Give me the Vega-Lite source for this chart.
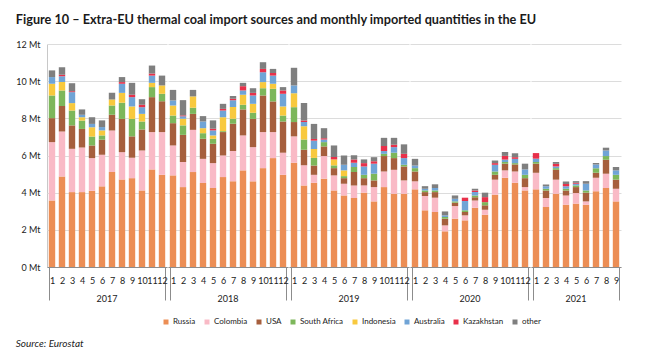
{
  "$schema": "https://vega.github.io/schema/vega-lite/v6.json",
  "background": "white",
  "padding": {"left": 15, "top": 14, "right": 10, "bottom": 4},
  "title": {"text": "Source: Eurostat", "orient": "bottom", "anchor": "start", "fontStyle": "italic", "fontWeight": "normal", "fontSize": 10, "font": "Lato", "color": "#222222", "offset": 13},
  "datasets": {
    "coal": [
      {"year": 2017, "month": 1, "Russia": 3.58, "Colombia": 3.14, "USA": 1.29, "South Africa": 1.22, "Indonesia": 0.63, "Australia": 0.36, "Kazakhstan": 0, "other": 0.36},
      {"year": 2017, "month": 2, "Russia": 4.87, "Colombia": 2.42, "USA": 1.37, "South Africa": 0.84, "Indonesia": 0.45, "Australia": 0.32, "Kazakhstan": 0.07, "other": 0.41},
      {"year": 2017, "month": 3, "Russia": 4.03, "Colombia": 2.33, "USA": 1.26, "South Africa": 0.8, "Indonesia": 0.4, "Australia": 0.59, "Kazakhstan": 0.05, "other": 0.43},
      {"year": 2017, "month": 4, "Russia": 4.03, "Colombia": 2.4, "USA": 1.0, "South Africa": 0.45, "Indonesia": 0.18, "Australia": 0.13, "Kazakhstan": 0, "other": 0.29},
      {"year": 2017, "month": 5, "Russia": 4.1, "Colombia": 1.76, "USA": 0.68, "South Africa": 0.48, "Indonesia": 0.5, "Australia": 0.18, "Kazakhstan": 0, "other": 0.36},
      {"year": 2017, "month": 6, "Russia": 4.34, "Colombia": 1.7, "USA": 0.81, "South Africa": 0.23, "Indonesia": 0.27, "Australia": 0.18, "Kazakhstan": 0, "other": 0.36},
      {"year": 2017, "month": 7, "Russia": 5.11, "Colombia": 2.24, "USA": 0.84, "South Africa": 0.5, "Indonesia": 0.32, "Australia": 0, "Kazakhstan": 0, "other": 0.36},
      {"year": 2017, "month": 8, "Russia": 4.71, "Colombia": 1.47, "USA": 1.79, "South Africa": 0.87, "Indonesia": 0.53, "Australia": 0.49, "Kazakhstan": 0.09, "other": 0.27},
      {"year": 2017, "month": 9, "Russia": 4.78, "Colombia": 1.1, "USA": 1.15, "South Africa": 0.94, "Indonesia": 0.67, "Australia": 0.5, "Kazakhstan": 0.13, "other": 0.64},
      {"year": 2017, "month": 10, "Russia": 4.12, "Colombia": 2.15, "USA": 1.13, "South Africa": 0.43, "Indonesia": 0.41, "Australia": 0.36, "Kazakhstan": 0.13, "other": 0.3},
      {"year": 2017, "month": 11, "Russia": 5.25, "Colombia": 2.01, "USA": 1.88, "South Africa": 0.54, "Indonesia": 0.23, "Australia": 0.39, "Kazakhstan": 0.11, "other": 0.43},
      {"year": 2017, "month": 12, "Russia": 4.96, "Colombia": 2.3, "USA": 1.66, "South Africa": 0.4, "Indonesia": 0.45, "Australia": 0, "Kazakhstan": 0, "other": 0.53},
      {"year": 2018, "month": 1, "Russia": 4.93, "Colombia": 1.61, "USA": 1.2, "South Africa": 0.41, "Indonesia": 0.54, "Australia": 0.27, "Kazakhstan": 0, "other": 0.57},
      {"year": 2018, "month": 2, "Russia": 4.3, "Colombia": 1.35, "USA": 1.46, "South Africa": 0.51, "Indonesia": 0.36, "Australia": 0.13, "Kazakhstan": 0.05, "other": 0.82},
      {"year": 2018, "month": 3, "Russia": 5.11, "Colombia": 2.27, "USA": 0.86, "South Africa": 0.33, "Indonesia": 0.61, "Australia": 0, "Kazakhstan": 0, "other": 0.35},
      {"year": 2018, "month": 4, "Russia": 4.52, "Colombia": 1.3, "USA": 1.08, "South Africa": 0.3, "Indonesia": 0.27, "Australia": 0.36, "Kazakhstan": 0, "other": 0.29},
      {"year": 2018, "month": 5, "Russia": 4.25, "Colombia": 1.34, "USA": 1.04, "South Africa": 0.27, "Indonesia": 0.18, "Australia": 0.27, "Kazakhstan": 0.09, "other": 0.45},
      {"year": 2018, "month": 6, "Russia": 4.84, "Colombia": 1.16, "USA": 1.26, "South Africa": 0.05, "Indonesia": 0.75, "Australia": 0.36, "Kazakhstan": 0.09, "other": 0.27},
      {"year": 2018, "month": 7, "Russia": 4.61, "Colombia": 1.63, "USA": 1.47, "South Africa": 0.27, "Indonesia": 0.63, "Australia": 0.36, "Kazakhstan": 0.09, "other": 0.14},
      {"year": 2018, "month": 8, "Russia": 5.2, "Colombia": 1.88, "USA": 1.4, "South Africa": 0.25, "Indonesia": 0.54, "Australia": 0.23, "Kazakhstan": 0.23, "other": 0.18},
      {"year": 2018, "month": 9, "Russia": 4.61, "Colombia": 1.84, "USA": 1.52, "South Africa": 0.33, "Indonesia": 0.48, "Australia": 0.45, "Kazakhstan": 0.14, "other": 0.25},
      {"year": 2018, "month": 10, "Russia": 5.32, "Colombia": 1.94, "USA": 1.97, "South Africa": 0.39, "Indonesia": 0.33, "Australia": 0.53, "Kazakhstan": 0.18, "other": 0.36},
      {"year": 2018, "month": 11, "Russia": 5.86, "Colombia": 1.4, "USA": 1.65, "South Africa": 0.68, "Indonesia": 0.27, "Australia": 0.44, "Kazakhstan": 0.14, "other": 0.22},
      {"year": 2018, "month": 12, "Russia": 4.96, "Colombia": 1.19, "USA": 1.68, "South Africa": 0.32, "Indonesia": 0.49, "Australia": 0.68, "Kazakhstan": 0.18, "other": 0.18},
      {"year": 2019, "month": 1, "Russia": 5.61, "Colombia": 1.42, "USA": 0.77, "South Africa": 0.8, "Indonesia": 0.75, "Australia": 0.42, "Kazakhstan": 0, "other": 0.95},
      {"year": 2019, "month": 2, "Russia": 4.39, "Colombia": 1.08, "USA": 0.84, "South Africa": 0.55, "Indonesia": 0.72, "Australia": 0.22, "Kazakhstan": 0.09, "other": 0.93},
      {"year": 2019, "month": 3, "Russia": 4.53, "Colombia": 0.43, "USA": 0.5, "South Africa": 0.41, "Indonesia": 0.48, "Australia": 0.45, "Kazakhstan": 0.09, "other": 0.81},
      {"year": 2019, "month": 4, "Russia": 4.75, "Colombia": 1.22, "USA": 0.52, "South Africa": 0.23, "Indonesia": 0, "Australia": 0.14, "Kazakhstan": 0.07, "other": 0.54},
      {"year": 2019, "month": 5, "Russia": 4.12, "Colombia": 0.81, "USA": 0.39, "South Africa": 0.15, "Indonesia": 0.32, "Australia": 0, "Kazakhstan": 0.13, "other": 0.62},
      {"year": 2019, "month": 6, "Russia": 3.85, "Colombia": 0.63, "USA": 0.3, "South Africa": 0.11, "Indonesia": 0.31, "Australia": 0.3, "Kazakhstan": 0, "other": 0.5},
      {"year": 2019, "month": 7, "Russia": 3.71, "Colombia": 0.68, "USA": 0.72, "South Africa": 0.27, "Indonesia": 0, "Australia": 0.23, "Kazakhstan": 0.18, "other": 0.22},
      {"year": 2019, "month": 8, "Russia": 4.0, "Colombia": 0.39, "USA": 0.39, "South Africa": 0.18, "Indonesia": 0, "Australia": 0.45, "Kazakhstan": 0.18, "other": 0.2},
      {"year": 2019, "month": 9, "Russia": 3.53, "Colombia": 0.77, "USA": 0.36, "South Africa": 0.36, "Indonesia": 0, "Australia": 0.54, "Kazakhstan": 0.13, "other": 0.22},
      {"year": 2019, "month": 10, "Russia": 4.3, "Colombia": 0.84, "USA": 0.83, "South Africa": 0.12, "Indonesia": 0, "Australia": 0.15, "Kazakhstan": 0.27, "other": 0.44},
      {"year": 2019, "month": 11, "Russia": 3.94, "Colombia": 1.29, "USA": 0.63, "South Africa": 0.29, "Indonesia": 0, "Australia": 0.3, "Kazakhstan": 0.13, "other": 0.37},
      {"year": 2019, "month": 12, "Russia": 3.94, "Colombia": 0.72, "USA": 0.75, "South Africa": 0.09, "Indonesia": 0, "Australia": 0.36, "Kazakhstan": 0.23, "other": 0.51},
      {"year": 2020, "month": 1, "Russia": 4.18, "Colombia": 0.43, "USA": 0.53, "South Africa": 0.18, "Indonesia": 0, "Australia": 0.14, "Kazakhstan": 0, "other": 0.36},
      {"year": 2020, "month": 2, "Russia": 3.05, "Colombia": 0.77, "USA": 0.21, "South Africa": 0.09, "Indonesia": 0, "Australia": 0.09, "Kazakhstan": 0, "other": 0.14},
      {"year": 2020, "month": 3, "Russia": 2.96, "Colombia": 0.77, "USA": 0.3, "South Africa": 0.09, "Indonesia": 0, "Australia": 0.13, "Kazakhstan": 0, "other": 0.2},
      {"year": 2020, "month": 4, "Russia": 1.92, "Colombia": 0.32, "USA": 0.36, "South Africa": 0.09, "Indonesia": 0, "Australia": 0.09, "Kazakhstan": 0, "other": 0.21},
      {"year": 2020, "month": 5, "Russia": 2.6, "Colombia": 0.68, "USA": 0.18, "South Africa": 0.07, "Indonesia": 0, "Australia": 0.14, "Kazakhstan": 0, "other": 0.18},
      {"year": 2020, "month": 6, "Russia": 2.51, "Colombia": 0.27, "USA": 0.18, "South Africa": 0.09, "Indonesia": 0, "Australia": 0.5, "Kazakhstan": 0.18, "other": 0},
      {"year": 2020, "month": 7, "Russia": 3.19, "Colombia": 0.39, "USA": 0.18, "South Africa": 0.09, "Indonesia": 0, "Australia": 0.18, "Kazakhstan": 0.09, "other": 0.09},
      {"year": 2020, "month": 8, "Russia": 2.81, "Colombia": 0.27, "USA": 0.24, "South Africa": 0.17, "Indonesia": 0, "Australia": 0, "Kazakhstan": 0.27, "other": 0.24},
      {"year": 2020, "month": 9, "Russia": 3.89, "Colombia": 0.81, "USA": 0.26, "South Africa": 0.18, "Indonesia": 0, "Australia": 0.36, "Kazakhstan": 0.09, "other": 0.14},
      {"year": 2020, "month": 10, "Russia": 4.8, "Colombia": 0.4, "USA": 0.36, "South Africa": 0.09, "Indonesia": 0, "Australia": 0.13, "Kazakhstan": 0.2, "other": 0.21},
      {"year": 2020, "month": 11, "Russia": 4.53, "Colombia": 0.61, "USA": 0.38, "South Africa": 0.07, "Indonesia": 0, "Australia": 0.23, "Kazakhstan": 0.09, "other": 0.21},
      {"year": 2020, "month": 12, "Russia": 4.12, "Colombia": 0.18, "USA": 0.48, "South Africa": 0.18, "Indonesia": 0, "Australia": 0.29, "Kazakhstan": 0, "other": 0.31},
      {"year": 2021, "month": 1, "Russia": 4.18, "Colombia": 0.89, "USA": 0.49, "South Africa": 0.09, "Indonesia": 0, "Australia": 0.18, "Kazakhstan": 0.3, "other": 0},
      {"year": 2021, "month": 2, "Russia": 3.23, "Colombia": 0.48, "USA": 0.41, "South Africa": 0.09, "Indonesia": 0, "Australia": 0.14, "Kazakhstan": 0, "other": 0.09},
      {"year": 2021, "month": 3, "Russia": 3.94, "Colombia": 0.76, "USA": 0.53, "South Africa": 0.09, "Indonesia": 0, "Australia": 0.09, "Kazakhstan": 0.14, "other": 0.1},
      {"year": 2021, "month": 4, "Russia": 3.35, "Colombia": 0.5, "USA": 0.27, "South Africa": 0.09, "Indonesia": 0, "Australia": 0.14, "Kazakhstan": 0.11, "other": 0.14},
      {"year": 2021, "month": 5, "Russia": 3.41, "Colombia": 0.57, "USA": 0.32, "South Africa": 0.09, "Indonesia": 0, "Australia": 0.09, "Kazakhstan": 0.05, "other": 0.09},
      {"year": 2021, "month": 6, "Russia": 3.35, "Colombia": 0.18, "USA": 0.47, "South Africa": 0.12, "Indonesia": 0, "Australia": 0.36, "Kazakhstan": 0, "other": 0.14},
      {"year": 2021, "month": 7, "Russia": 4.07, "Colombia": 0.73, "USA": 0.27, "South Africa": 0.25, "Indonesia": 0, "Australia": 0.2, "Kazakhstan": 0, "other": 0.07},
      {"year": 2021, "month": 8, "Russia": 4.25, "Colombia": 0.77, "USA": 0.75, "South Africa": 0.2, "Indonesia": 0, "Australia": 0.3, "Kazakhstan": 0, "other": 0.15},
      {"year": 2021, "month": 9, "Russia": 3.53, "Colombia": 0.68, "USA": 0.49, "South Africa": 0.26, "Indonesia": 0, "Australia": 0.24, "Kazakhstan": 0, "other": 0.18}
    ],
    "ranks": [
      {"source": "Russia", "rank": 1},
      {"source": "Colombia", "rank": 2},
      {"source": "USA", "rank": 3},
      {"source": "South Africa", "rank": 4},
      {"source": "Indonesia", "rank": 5},
      {"source": "Australia", "rank": 6},
      {"source": "Kazakhstan", "rank": 7},
      {"source": "other", "rank": 8}
    ]
  },
  "vconcat": [
    {
      "title": {"text": "Figure 10 – Extra-EU thermal coal import sources and monthly imported quantities in the EU", "anchor": "start", "fontSize": 12.7, "fontWeight": "bold", "font": "Lato", "color": "#1a1a1a", "offset": 13},
      "data": {"name": "coal"},
      "transform": [
        {"fold": ["Russia", "Colombia", "USA", "South Africa", "Indonesia", "Australia", "Kazakhstan", "other"], "as": ["source", "value"]},
        {"lookup": "source", "from": {"data": {"name": "ranks"}, "key": "source", "fields": ["rank"]}}
      ],
      "facet": {
        "column": {
          "field": "year",
          "type": "ordinal",
          "title": null,
          "header": {"labelOrient": "bottom", "labelFontSize": 9, "labelFont": "Lato", "labelColor": "#222222", "labelPadding": -6}
        }
      },
      "spacing": 0,
      "resolve": {"scale": {"x": "independent"}},
      "spec": {
        "width": {"step": 10},
        "height": 223,
        "mark": {"type": "bar"},
        "encoding": {
          "x": {
            "field": "month",
            "type": "ordinal",
            "scale": {"paddingInner": 0.36, "paddingOuter": 0.18},
            "axis": {
              "title": null,
              "labelAngle": 0,
              "labelFontSize": 9,
              "labelFont": "Lato",
              "labelColor": "#222222",
              "labelPadding": -24,
              "labelOverlap": false,
              "labelBound": false,
              "labelFlush": false,
              "tickBand": "extent",
              "tickSize": 33,
              "tickColor": "#8c8c8c",
              "tickOpacity": {"condition": {"test": "datum.index == 1 || datum.index < 0", "value": 1}, "value": 0},
              "domainColor": "#8c8c8c",
              "grid": false
            }
          },
          "y": {
            "field": "value",
            "type": "quantitative",
            "stack": "zero",
            "scale": {"domain": [0, 12]},
            "axis": {
              "title": null,
              "values": [0, 2, 4, 6, 8, 10, 12],
              "labelExpr": "datum.value + ' Mt'",
              "labelFontSize": 9,
              "labelFont": "Lato",
              "labelColor": "#222222",
              "labelPadding": 7,
              "ticks": false,
              "domainColor": "#c8c8c8",
              "gridColor": "#dcdcdc"
            }
          },
          "order": {"field": "rank", "type": "quantitative", "sort": "ascending"},
          "color": {
            "field": "source",
            "type": "nominal",
            "sort": ["Russia", "Colombia", "USA", "South Africa", "Indonesia", "Australia", "Kazakhstan", "other"],
            "scale": {
              "domain": ["Russia", "Colombia", "USA", "South Africa", "Indonesia", "Australia", "Kazakhstan", "other"],
              "range": ["#EC8E55", "#F9BAC6", "#A65F3D", "#7DB75B", "#F8C93E", "#70A4D6", "#E8304A", "#7F7F7F"]
            },
            "legend": {
              "title": null,
              "orient": "none",
              "legendX": 115,
              "legendY": 274,
              "direction": "horizontal",
              "symbolType": "square",
              "symbolSize": 25,
              "symbolStrokeWidth": 0,
              "labelFontSize": 8,
              "labelFont": "Lato",
              "labelColor": "#222222",
              "labelOffset": 3,
              "columnPadding": 7
            }
          }
        }
      }
    }
  ],
  "config": {
    "view": {"stroke": null}
  }
}
